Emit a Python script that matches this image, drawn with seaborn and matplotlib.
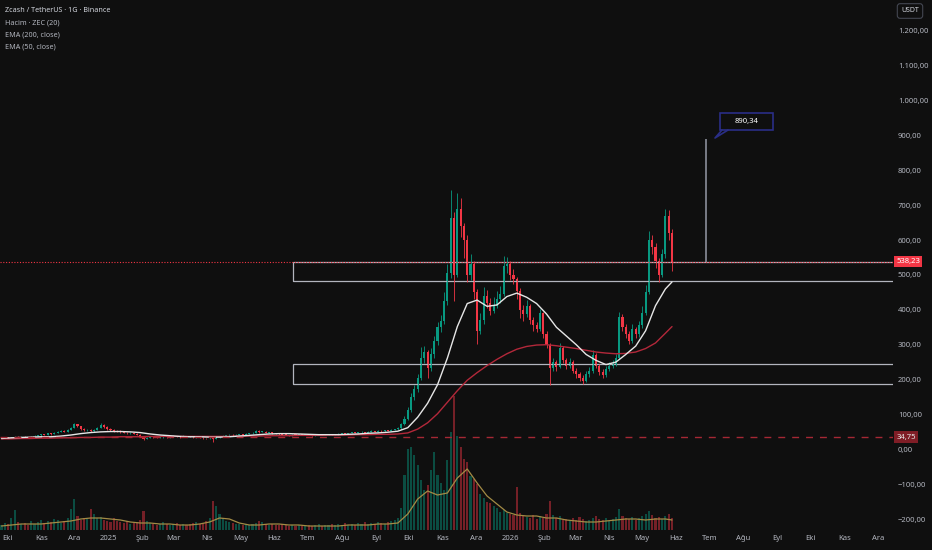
import numpy as np
import pandas as pd
import matplotlib
matplotlib.use("Agg")
import matplotlib.pyplot as plt
import matplotlib.dates as mdates
from matplotlib.patches import Rectangle
from matplotlib.ticker import FuncFormatter
import seaborn as sns

# ---------------- estilo ----------------
sns.set_theme(style="dark")
plt.rcParams['font.family'] = ['Noto Sans', 'DejaVu Sans']

BG = '#0f0f0f'
UP = '#089981'
DOWN = '#f23645'
TXT = '#b2b5be'

# ---------------- datos (velas de 3 dias, ZEC/USDT) ----------------
start = '2024-09-26'
closes = [33, 34, 32, 33, 35, 34, 36, 35, 34, 36, 38, 40, 43, 42, 46, 44, 48, 50, 52, 51,
          55, 62, 72, 66, 58, 55, 56, 52, 55, 62, 70, 64, 58, 55, 53, 52, 50, 48, 46, 48,
          45, 42, 36, 30, 33, 35, 34, 33, 34, 35, 34, 37, 38, 36, 35, 38, 37, 36, 34, 35,
          33, 32, 31, 33, 30, 34, 36, 38, 40, 42, 40, 41, 43, 42, 44, 46, 48, 52, 50, 51,
          48, 49, 46, 45, 44, 42, 41, 40, 42, 41, 43, 42, 44, 41, 40, 42, 43, 41, 42, 44,
          43, 43, 44, 46, 45, 47, 48, 47, 49, 50, 48, 50, 52, 51, 53, 52, 54, 53, 55, 57,
          60, 72, 88, 112, 150, 172, 205, 262, 280, 232, 272, 312, 352, 368, 425, 505, 662, 500, 690, 640,
          600, 500, 530, 450, 340, 370, 440, 420, 398, 412, 430, 445, 525, 532, 500, 488, 455, 400, 388, 410,
          372, 356, 345, 390, 332, 300, 232, 250, 236, 290, 256, 240, 250, 226, 215, 205, 196, 215, 226, 270,
          240, 222, 214, 230, 240, 246, 262, 380, 352, 330, 312, 345, 330, 356, 392, 452, 600, 580, 540, 500,
          560, 670, 620, 538.23]
highs = [35, 36, 35, 35, 37, 37, 38, 38, 36, 38, 40, 42, 45, 45, 48, 48, 50, 53, 55, 54,
         58, 65, 76, 74, 68, 60, 59, 58, 57, 64, 75, 72, 66, 60, 57, 55, 54, 52, 50, 50,
         49, 46, 43, 37, 35, 37, 37, 35, 36, 37, 36, 39, 40, 39, 37, 40, 39, 38, 37, 36,
         36, 34, 33, 35, 34, 35, 38, 40, 42, 44, 43, 43, 45, 44, 46, 48, 50, 55, 54, 53,
         52, 51, 50, 47, 46, 45, 43, 42, 43, 43, 44, 44, 45, 45, 42, 43, 44, 44, 43, 45,
         45, 45, 46, 47, 47, 48, 50, 49, 51, 52, 51, 52, 54, 53, 55, 54, 56, 55, 57, 59,
         63, 76, 95, 120, 162, 185, 215, 292, 295, 285, 290, 325, 365, 385, 450, 530, 745, 680, 735, 722,
         650, 615, 560, 540, 460, 392, 465, 458, 435, 438, 455, 468, 555, 552, 540, 518, 495, 462, 415, 428,
         418, 380, 365, 402, 395, 340, 305, 262, 255, 305, 295, 262, 262, 255, 232, 222, 212, 224, 236, 285,
         275, 246, 230, 238, 250, 256, 272, 395, 388, 360, 340, 358, 352, 368, 410, 470, 625, 615, 592, 548,
         575, 690, 685, 632]
lows = [31, 32, 31, 31, 32, 33, 33, 34, 32, 33, 35, 37, 39, 40, 41, 42, 43, 47, 49, 49,
        50, 54, 60, 64, 56, 53, 53, 50, 50, 54, 61, 62, 56, 53, 51, 50, 48, 46, 44, 45,
        43, 40, 34, 27, 29, 32, 32, 31, 32, 33, 32, 33, 36, 35, 33, 34, 35, 34, 33, 33,
        32, 30, 29, 30, 20, 29, 33, 35, 37, 39, 39, 39, 40, 41, 41, 43, 45, 47, 48, 49,
        47, 46, 45, 43, 42, 41, 40, 39, 39, 40, 40, 41, 41, 40, 39, 39, 41, 40, 40, 41,
        42, 42, 42, 43, 44, 44, 46, 46, 46, 48, 47, 47, 49, 50, 50, 51, 51, 52, 52, 54,
        56, 58, 70, 85, 108, 140, 165, 200, 248, 205, 225, 262, 300, 335, 360, 415, 490, 425, 495, 610,
        550, 480, 485, 432, 302, 330, 360, 405, 385, 390, 405, 420, 440, 505, 485, 475, 430, 376, 368, 380,
        360, 340, 335, 340, 320, 290, 185, 225, 226, 232, 248, 230, 232, 218, 205, 196, 188, 192, 208, 220,
        232, 212, 205, 208, 225, 232, 240, 258, 340, 318, 302, 305, 318, 322, 348, 385, 445, 560, 520, 480,
        495, 550, 600, 510]
volume = [5, 7, 6, 12, 20, 8, 6, 7, 5, 9, 6, 8, 10, 7, 9, 8, 11, 10, 7, 9,
          12, 21, 31, 14, 10, 12, 11, 21, 16, 12, 13, 10, 9, 8, 12, 9, 8, 7, 9, 6,
          7, 8, 10, 19, 9, 7, 6, 5, 6, 8, 6, 5, 6, 7, 5, 6, 5, 6, 7, 8,
          6, 7, 9, 12, 29, 24, 16, 12, 9, 8, 7, 6, 6, 5, 6, 5, 6, 7, 9, 8,
          6, 5, 6, 5, 5, 6, 5, 4, 5, 4, 5, 4, 4, 5, 4, 5, 6, 4, 5, 5,
          6, 5, 6, 5, 7, 5, 6, 5, 7, 6, 8, 6, 7, 6, 8, 7, 6, 8, 9, 10,
          12, 22, 55, 81, 83, 75, 65, 50, 40, 45, 60, 78, 55, 47, 40, 70, 98, 134, 94, 83,
          71, 68, 54, 51, 46, 36, 32, 28, 27, 24, 22, 18, 20, 17, 16, 15, 43, 17, 14, 13,
          12, 15, 11, 14, 12, 16, 29, 15, 12, 14, 10, 11, 9, 12, 10, 13, 11, 9, 10, 12,
          14, 11, 10, 12, 9, 11, 13, 21, 14, 12, 11, 13, 10, 12, 14, 16, 19, 15, 12, 13,
          11, 14, 16, 12]

# EMA y media de volumen leidas cada 3 velas (+ la ultima)
ema50 = [31, 33, 34, 35, 36, 36, 38, 41, 45, 48, 50, 51, 51, 50, 48, 44, 41, 39, 37, 36,
         36, 35, 35, 36, 38, 40, 42, 44, 45, 45, 44, 43, 42, 42, 42, 43, 44, 46, 47, 49,
         52, 62, 92, 132, 185, 262, 352, 418, 428, 410, 414, 438, 448, 436, 418, 388, 350, 325, 300, 272,
         255, 243, 250, 272, 296, 340, 412, 460, 480]
ema200 = [30, 30, 31, 31, 32, 32, 33, 33, 34, 34, 35, 35, 36, 36, 36, 37, 37, 37, 37, 37,
          37, 37, 37, 37, 38, 38, 38, 39, 39, 39, 40, 40, 40, 41, 41, 41, 42, 42, 43, 43,
          44, 47, 58, 76, 102, 135, 168, 198, 220, 240, 258, 274, 287, 295, 299, 300, 297, 293, 289, 284,
          279, 276, 274, 275, 279, 289, 305, 333, 352]
vol_ma = [4, 5, 6, 6, 6, 7, 8, 9, 11, 12, 12, 11, 10, 8, 7, 7, 6, 6, 5, 5,
          6, 8, 12, 11, 7, 5, 5, 6, 6, 5, 5, 4, 4, 4, 4, 5, 5, 5, 6, 6,
          7, 16, 31, 39, 35, 37, 52, 61, 47, 34, 26, 18, 15, 14, 14, 12, 12, 10, 9, 8,
          8, 9, 10, 11, 11, 10, 11, 11, 10]

last_price = 538.23
low_line = 34.75
target_price = 890.34
boxes = [(483, 537), (187, 246)]
box_start = '2025-06-18'
target_date = '2026-06-28'

month_labels = ['Eki', 'Kas', 'Ara', '2025', 'Şub', 'Mar', 'Nis', 'May', 'Haz', 'Tem', 'Ağu', 'Eyl',
                'Eki', 'Kas', 'Ara', '2026', 'Şub', 'Mar', 'Nis', 'May', 'Haz', 'Tem', 'Ağu', 'Eyl',
                'Eki', 'Kas', 'Ara']

# ---------------- preparacion ----------------
df = pd.DataFrame({'close': closes, 'high': highs, 'low': lows, 'volume': volume})
df['date'] = pd.date_range(start, periods=len(df), freq='3D')
df['open'] = df['close'].shift(1).fillna(32)
df['up'] = df['close'] >= df['open']

idx = list(range(0, len(df), 3)) + [len(df) - 1]
lines = pd.DataFrame({'date': df['date'].iloc[idx].values, 'ema50': ema50,
                      'ema200': ema200, 'vol_ma': vol_ma})

months = pd.date_range('2024-10-01', periods=len(month_labels), freq='MS')


def tr_fmt(v, _=None):
    s = f"{abs(v):,.2f}".replace(",", "X").replace(".", ",").replace("X", ".")
    return ("−" if v < 0 else "") + s


# ---------------- figura ----------------
W, H = 932, 550
fig = plt.figure(figsize=(W / 100, H / 100), dpi=100, facecolor=BG)
ax = fig.add_axes([0, 20 / H, 893 / W, 530 / H])
ax_vol = ax.twinx()
ax.set_zorder(2)
ax_vol.set_zorder(1)
ax.patch.set_visible(False)

# volumen
for up, col in [(True, UP), (False, DOWN)]:
    d = df[df['up'] == up]
    ax_vol.bar(d['date'], d['volume'], width=1.9, color=col, alpha=0.45, linewidth=0)
sns.lineplot(data=lines, x='date', y='vol_ma', ax=ax_vol, color='#a38b45', linewidth=0.9)
ax_vol.set_ylim(0, 530)
ax_vol.set_yticks([])
ax_vol.set_ylabel('')

# velas
for up, col in [(True, UP), (False, DOWN)]:
    d = df[df['up'] == up]
    ax.vlines(d['date'], d['low'], d['high'], color=col, linewidth=0.6)
    body_low = np.minimum(d['open'], d['close'])
    body_h = np.maximum((d['close'] - d['open']).abs(), 1.5)
    ax.bar(d['date'], body_h, bottom=body_low, width=1.9, color=col, linewidth=0)

# EMAs
sns.lineplot(data=lines, x='date', y='ema200', ax=ax, color='#b3283a', linewidth=1.0)
sns.lineplot(data=lines, x='date', y='ema50', ax=ax, color='#e6e6e6', linewidth=1.0)

# lineas de precio
ax.axhline(last_price, color=DOWN, linestyle=(0, (1, 1.5)), linewidth=0.8)
ax.axhline(low_line, color='#a52834', linestyle=(0, (5, 5)), linewidth=1.0)

# rectangulos de soporte / resistencia
x0 = mdates.date2num(pd.Timestamp(box_start))
for lo, hi in boxes:
    ax.add_patch(Rectangle((x0, lo), 2000, hi - lo, facecolor='none',
                           edgecolor='#b2b5be', linewidth=0.9))

# objetivo
ax.vlines(pd.Timestamp(target_date), last_price, target_price, color='#787b86', linewidth=1.4)

# ejes
x_left = pd.Timestamp('2024-10-01') - pd.Timedelta(days=6.36)
x_right = pd.Timestamp('2024-10-01') + pd.Timedelta(days=804.7)
ax.set_xlim(x_left, x_right)
ax.set_ylim(-231.4, 1288.5)
ax.yaxis.tick_right()
ax.set_yticks(np.arange(-200, 1201, 100))
ax.yaxis.set_major_formatter(FuncFormatter(tr_fmt))
ax.set_xticks(months)
ax.set_xticklabels(month_labels)
ax.tick_params(axis='both', length=0, colors=TXT, labelsize=5.5)
ax.tick_params(axis='y', pad=3.6)
ax.tick_params(axis='x', pad=3.5)
ax.set_xlabel('')
ax.set_ylabel('')
ax.grid(False)
ax_vol.grid(False)
for a in (ax, ax_vol):
    for s in a.spines.values():
        s.set_visible(False)

# etiquetas de precio a la derecha
ytr = ax.get_yaxis_transform()
ax.text(1.0035, last_price, tr_fmt(last_price), transform=ytr, ha='left', va='center',
        fontsize=5.5, color='white', clip_on=False,
        bbox=dict(boxstyle='square,pad=0.3', fc=DOWN, ec='none'))
ax.text(1.0035, low_line, tr_fmt(low_line), transform=ytr, ha='left', va='center',
        fontsize=5.5, color='#e8e8e8', clip_on=False,
        bbox=dict(boxstyle='square,pad=0.3', fc='#7f1d26', ec='none'))

# caja del objetivo
navy = '#2a2e86'
fig.add_artist(Rectangle((720 / W, 1 - 130 / H), 53 / W, 17 / H, transform=fig.transFigure,
                         facecolor=BG, edgecolor=navy, linewidth=1.2, zorder=5))
fig.add_artist(plt.Line2D([722 / W, 715 / W, 728 / W], [1 - 130 / H, 1 - 138 / H, 1 - 130 / H],
                          transform=fig.transFigure, color=navy, linewidth=1.2, zorder=6))
fig.text(746.5 / W, 1 - 121.5 / H, tr_fmt(target_price), ha='center', va='center',
         fontsize=5.5, color='white', fontweight='bold', zorder=7)

# USDT
fig.text(910 / W, 1 - 11 / H, 'USDT', ha='center', va='center', fontsize=5, color='#d1d4dc',
         bbox=dict(boxstyle='round,pad=0.55,rounding_size=0.4', fc=BG, ec='#434651', lw=0.8))

# leyenda superior izquierda
info = [('Zcash / TetherUS · 1G · Binance', '#d1d4dc'),
        ('Hacim · ZEC (20)', TXT),
        ('EMA (200, close)', TXT),
        ('EMA (50, close)', TXT)]
for k, (t, c) in enumerate(info):
    fig.text(5 / W, 1 - (11 + 12 * k) / H, t, ha='left', va='center', fontsize=5.2, color=c)

fig.savefig('out.png', dpi=100, facecolor=BG)
